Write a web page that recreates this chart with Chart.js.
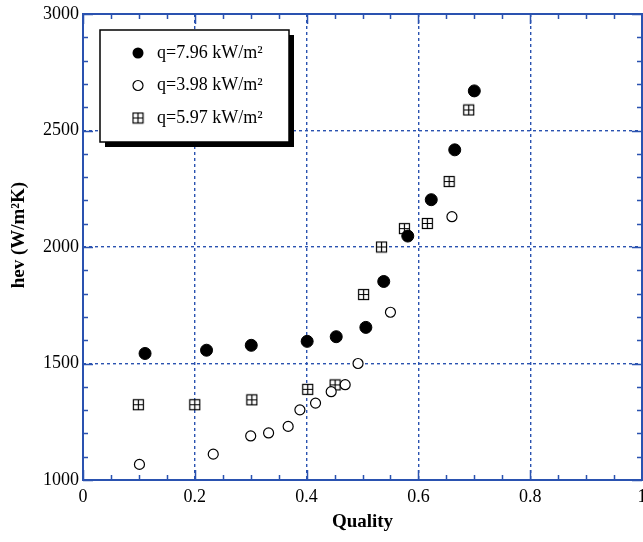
<!DOCTYPE html>
<html>
<head>
<meta charset="utf-8">
<script src="https://cdn.jsdelivr.net/npm/chart.js@4.4.1/dist/chart.umd.min.js"></script>
<style>
  html, body { margin: 0; padding: 0; background: #fff; }
  #wrap { width: 643px; height: 542px; position: relative; }
</style>
</head>
<body>
<div id="wrap"><canvas id="c" width="643" height="542"></canvas></div>
<script>
// ---- data ----
const seriesLabels = ['q=7.96 kW/m\u00B2', 'q=3.98 kW/m\u00B2', 'q=5.97 kW/m\u00B2'];

const q796x = [0.111, 0.221, 0.301, 0.401, 0.453, 0.506, 0.538, 0.581, 0.623, 0.665, 0.700];
const q796y = [1543, 1557, 1578, 1595, 1615, 1655, 1852, 2047, 2203, 2417, 2670];

const q398x = [0.101, 0.233, 0.300, 0.332, 0.367, 0.388, 0.416, 0.444, 0.469, 0.492, 0.550, 0.660];
const q398y = [1067, 1111, 1189, 1202, 1230, 1301, 1330, 1379, 1409, 1500, 1720, 2130];

const q597x = [0.099, 0.200, 0.302, 0.402, 0.451, 0.502, 0.534, 0.575, 0.616, 0.655, 0.690];
const q597y = [1323, 1323, 1344, 1389, 1408, 1796, 2000, 2079, 2101, 2281, 2588];

const xTickLabels = ['0', '0.2', '0.4', '0.6', '0.8', '1'];
const yTickLabels = ['1000', '1500', '2000', '2500', '3000'];

const xTitle = 'Quality';
const yTitle = 'hev (W/m\u00B2K)';

// ---- styling ----
const FONT = "'Liberation Serif', 'DejaVu Serif', serif";
const BLUE = '#2a52b0';

function pts(xs, ys) { return xs.map((x, i) => ({ x: x, y: ys[i] })); }

function makeSquare() {
  const c = document.createElement('canvas');
  c.width = 13; c.height = 13;
  const g = c.getContext('2d');
  g.fillStyle = '#fff';
  g.fillRect(1.5, 1.5, 10, 10);
  g.strokeStyle = '#000';
  g.lineWidth = 1.2;
  g.strokeRect(1.5, 1.5, 10, 10);
  g.beginPath();
  g.moveTo(6.5, 1.5); g.lineTo(6.5, 11.5);
  g.moveTo(1.5, 6.5); g.lineTo(11.5, 6.5);
  g.stroke();
  return c;
}
const squareImg = makeSquare();

const frameTicks = {
  id: 'frameTicks',
  afterDatasetsDraw(chart) {
    const { ctx, chartArea: a, scales: { x, y } } = chart;
    ctx.save();
    ctx.strokeStyle = BLUE;
    ctx.lineWidth = 1.5;
    ctx.beginPath();
    for (let i = 0; i <= 20; i++) {
      const v = i * 0.05;
      const px = Math.round(x.getPixelForValue(v)) + 0.5;
      const len = (i % 4 === 0) ? 10 : 5;
      ctx.moveTo(px, a.bottom); ctx.lineTo(px, a.bottom - len);
      ctx.moveTo(px, a.top); ctx.lineTo(px, a.top + len);
    }
    for (let i = 0; i <= 20; i++) {
      const v = 1000 + i * 100;
      const py = Math.round(y.getPixelForValue(v)) + 0.5;
      const len = (i % 5 === 0) ? 10 : 5;
      ctx.moveTo(a.left, py); ctx.lineTo(a.left + len, py);
      ctx.moveTo(a.right, py); ctx.lineTo(a.right - len, py);
    }
    ctx.stroke();
    ctx.lineWidth = 2;
    ctx.strokeRect(a.left, a.top, a.right - a.left, a.bottom - a.top);
    ctx.restore();
  },
  afterDraw(chart) {
    const { ctx } = chart;
    const L = 100, T = 30, W = 189, H = 112;
    ctx.save();
    ctx.fillStyle = '#000';
    ctx.fillRect(L + 5, T + 5, W, H);
    ctx.fillStyle = '#fff';
    ctx.fillRect(L, T, W, H);
    ctx.strokeStyle = '#000';
    ctx.lineWidth = 1.5;
    ctx.strokeRect(L, T, W, H);
    const rows = [53, 85.5, 118];
    const mx = 138;
    ctx.beginPath(); ctx.arc(mx, rows[0], 5.5, 0, Math.PI * 2); ctx.fillStyle = '#000'; ctx.fill();
    ctx.beginPath(); ctx.arc(mx, rows[1], 5, 0, Math.PI * 2); ctx.fillStyle = '#fff'; ctx.fill();
    ctx.lineWidth = 1.2; ctx.stroke();
    ctx.drawImage(squareImg, mx - 6.5, rows[2] - 6.5);
    ctx.fillStyle = '#000';
    ctx.font = '18px ' + FONT;
    ctx.textBaseline = 'middle';
    for (let i = 0; i < 3; i++) ctx.fillText(chart.data.datasets[i].label, 157, rows[i]);
    ctx.restore();
  }
};

new Chart(document.getElementById('c'), {
  type: 'scatter',
  data: {
    datasets: [
      { label: seriesLabels[0], data: pts(q796x, q796y), pointStyle: 'circle', pointRadius: 6,
        backgroundColor: '#000', borderColor: '#000', borderWidth: 1 },
      { label: seriesLabels[1], data: pts(q398x, q398y), pointStyle: 'circle', pointRadius: 5,
        backgroundColor: '#fff', borderColor: '#000', borderWidth: 1.2 },
      { label: seriesLabels[2], data: pts(q597x, q597y), pointStyle: squareImg, pointRadius: 6,
        backgroundColor: '#fff', borderColor: '#000' }
    ]
  },
  options: {
    responsive: false,
    animation: false,
    devicePixelRatio: 1,
    layout: { autoPadding: false, padding: { top: 14, right: 1, left: 0, bottom: 0 } },
    plugins: { legend: { display: false }, tooltip: { enabled: false } },
    scales: {
      x: {
        type: 'linear', min: 0, max: 1,
        afterFit(s) { s.height = 62; s.paddingRight = 0; s.paddingLeft = 0; },
        afterBuildTicks(s) { s.ticks = xTickLabels.map(t => ({ value: parseFloat(t) })); },
        ticks: {
          callback: (v, i) => xTickLabels[i],
          font: { family: FONT, size: 18 }, color: '#000', padding: 6, maxRotation: 0, autoSkip: false
        },
        grid: { drawTicks: false, color: BLUE, lineWidth: 1.4 },
        border: { display: false, dash: [3, 3] },
        title: { display: true, text: xTitle, color: '#000',
          font: { family: FONT, size: 19, weight: 'bold' }, padding: { top: 0, bottom: 9 } }
      },
      y: {
        type: 'linear', min: 1000, max: 3000,
        afterFit(s) { s.width = 83; s.paddingTop = 0; s.paddingBottom = 0; },
        afterBuildTicks(s) { s.ticks = yTickLabels.map(t => ({ value: parseFloat(t) })); },
        ticks: {
          callback: (v, i) => yTickLabels[i],
          font: { family: FONT, size: 18 }, color: '#000', padding: 4, autoSkip: false
        },
        grid: { drawTicks: false, color: BLUE, lineWidth: 1.4 },
        border: { display: false, dash: [3, 3] },
        title: { display: true, text: '\u00A0\u00A0\u00A0\u00A0\u00A0' + yTitle, color: '#000',
          font: { family: FONT, size: 19, weight: 'bold' }, padding: { top: 8, bottom: 0 } }
      }
    }
  },
  plugins: [frameTicks]
});
</script>
</body>
</html>
